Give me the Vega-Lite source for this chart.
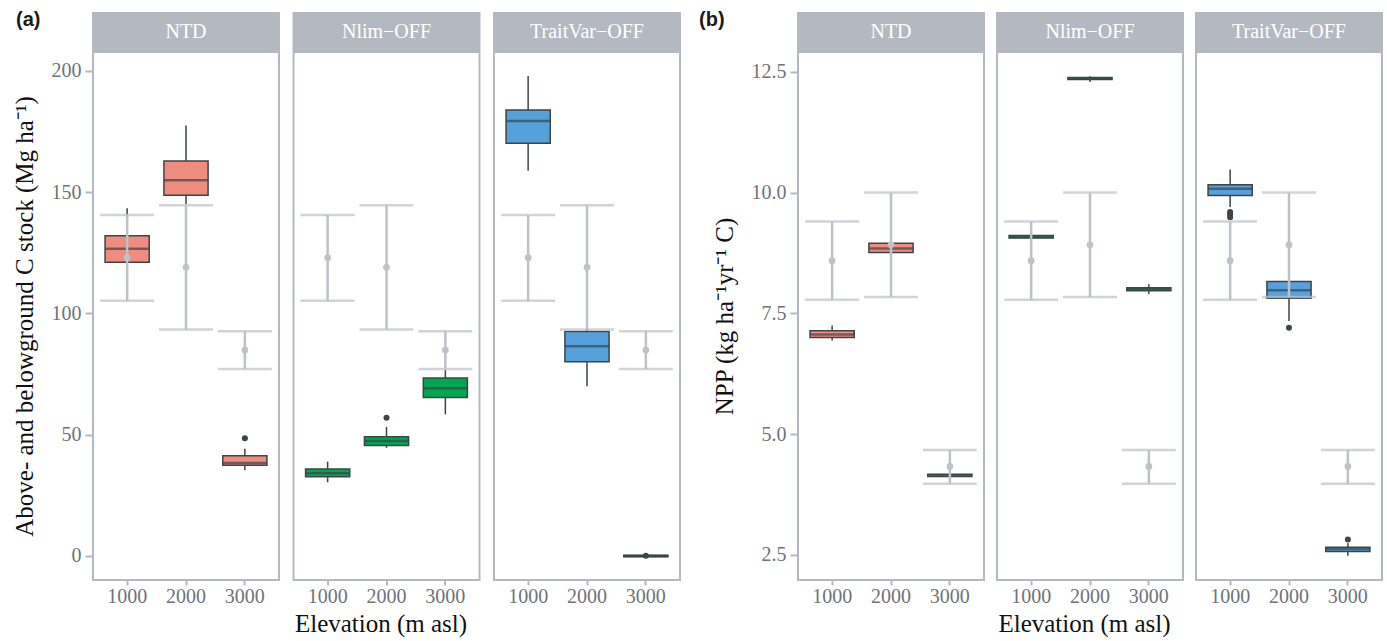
{
"$schema": "https://vega.github.io/schema/vega-lite/v6.json",
"background": "white",
"padding": {"left": 11, "top": 10, "right": 0, "bottom": 0},
"config": {
  "view": {"stroke": "#B4B9C1", "strokeWidth": 2},
  "axis": {"domain": false, "grid": false, "tickColor": "#B4B9C1", "tickWidth": 2, "labelFont": "Liberation Serif", "labelFontSize": 20, "labelColor": "#6E7379", "titleFont": "Liberation Serif", "titleFontSize": 25, "titleFontWeight": "normal", "titleColor": "#111111"},
  "axisX": {"labelAngle": 0, "tickSize": 5, "labelPadding": 1, "titlePadding": 5},
  "axisY": {"tickSize": 8, "labelPadding": 4, "titlePadding": 14},
  "title": {"font": "Liberation Sans", "fontSize": 20, "fontWeight": "bold", "color": "#1A1A1A", "anchor": "start", "frame": "bounds"}
},
"datasets": {
  "models": [{"key": "NTD", "model": "NTD"}, {"key": "Nlim", "model": "Nlim−OFF"}, {"key": "TV", "model": "TraitVar−OFF"}],
  "box": [
    {"var": "C", "key": "NTD", "elev": 1000, "lower": 113.0, "q1": 121.1, "median": 126.7, "q3": 132.0, "upper": 143.4},
    {"var": "C", "key": "NTD", "elev": 2000, "lower": 145.1, "q1": 148.7, "median": 154.9, "q3": 162.9, "upper": 177.5},
    {"var": "C", "key": "NTD", "elev": 3000, "lower": 35.3, "q1": 37.4, "median": 38.3, "q3": 41.3, "upper": 44.2},
    {"var": "C", "key": "Nlim", "elev": 1000, "lower": 30.4, "q1": 32.7, "median": 34.1, "q3": 35.9, "upper": 38.9},
    {"var": "C", "key": "Nlim", "elev": 2000, "lower": 44.6, "q1": 45.6, "median": 47.4, "q3": 49.2, "upper": 53.2},
    {"var": "C", "key": "Nlim", "elev": 3000, "lower": 58.4, "q1": 65.3, "median": 69.2, "q3": 73.4, "upper": 76.7},
    {"var": "C", "key": "TV", "elev": 1000, "lower": 158.8, "q1": 170.2, "median": 179.3, "q3": 183.9, "upper": 197.9},
    {"var": "C", "key": "TV", "elev": 2000, "lower": 70.0, "q1": 80.1, "median": 86.5, "q3": 92.6, "upper": 94.5},
    {"var": "C", "key": "TV", "elev": 3000, "lower": -0.3, "q1": -0.3, "median": 0.0, "q3": 0.3, "upper": 0.3},
    {"var": "NPP", "key": "NTD", "elev": 1000, "lower": 6.94, "q1": 7.0, "median": 7.06, "q3": 7.14, "upper": 7.25},
    {"var": "NPP", "key": "NTD", "elev": 2000, "lower": 8.74, "q1": 8.76, "median": 8.84, "q3": 8.95, "upper": 8.97},
    {"var": "NPP", "key": "NTD", "elev": 3000, "lower": 4.11, "q1": 4.12, "median": 4.14, "q3": 4.17, "upper": 4.18},
    {"var": "NPP", "key": "Nlim", "elev": 1000, "lower": 9.04, "q1": 9.06, "median": 9.08, "q3": 9.11, "upper": 9.12},
    {"var": "NPP", "key": "Nlim", "elev": 2000, "lower": 12.29, "q1": 12.34, "median": 12.36, "q3": 12.38, "upper": 12.41},
    {"var": "NPP", "key": "Nlim", "elev": 3000, "lower": 7.9, "q1": 7.97, "median": 8.0, "q3": 8.03, "upper": 8.1},
    {"var": "NPP", "key": "TV", "elev": 1000, "lower": 9.7, "q1": 9.94, "median": 10.08, "q3": 10.16, "upper": 10.48},
    {"var": "NPP", "key": "TV", "elev": 2000, "lower": 7.34, "q1": 7.81, "median": 7.98, "q3": 8.16, "upper": 8.25},
    {"var": "NPP", "key": "TV", "elev": 3000, "lower": 2.48, "q1": 2.57, "median": 2.62, "q3": 2.66, "upper": 2.74}
  ],
  "out": [
    {"var": "C", "key": "NTD", "elev": 3000, "value": 48.5},
    {"var": "C", "key": "Nlim", "elev": 2000, "value": 57.0},
    {"var": "C", "key": "TV", "elev": 3000, "value": 0.1},
    {"var": "NPP", "key": "TV", "elev": 1000, "value": 9.6},
    {"var": "NPP", "key": "TV", "elev": 1000, "value": 9.55},
    {"var": "NPP", "key": "TV", "elev": 1000, "value": 9.49},
    {"var": "NPP", "key": "TV", "elev": 2000, "value": 7.2},
    {"var": "NPP", "key": "TV", "elev": 3000, "value": 2.82}
  ],
  "obs": [
    {"var": "C", "elev": 1000, "lo": 105.2, "mean": 123.0, "hi": 140.6},
    {"var": "C", "elev": 2000, "lo": 93.4, "mean": 119.0, "hi": 144.6},
    {"var": "C", "elev": 3000, "lo": 77.1, "mean": 84.9, "hi": 92.7},
    {"var": "NPP", "elev": 1000, "lo": 7.78, "mean": 8.59, "hi": 9.4},
    {"var": "NPP", "elev": 2000, "lo": 7.84, "mean": 8.92, "hi": 10.0},
    {"var": "NPP", "elev": 3000, "lo": 3.97, "mean": 4.33, "hi": 4.67}
  ]
},
"spacing": 18,
"hconcat": [
 {
  "title": {"text": "(a)", "offset": -18, "dx": 5},
  "spacing": 12.5,
  "hconcat": [
   {"spacing": 0, "vconcat": [
     {"width": 186, "height": 37, "view": {"fill": "#B4B9C1", "stroke": "#B4B9C1", "strokeWidth": 2},
      "data": {"name": "models"}, "transform": [{"filter": "datum.key === 'NTD'"}],
      "mark": {"type": "text", "color": "white", "font": "Liberation Serif", "fontSize": 20},
      "encoding": {"text": {"field": "model"}}},
     {"width": 186, "height": 528,
      "encoding": {"x": {"field": "elev", "type": "ordinal", "scale": {"domain": [1000, 2000, 3000], "paddingInner": 0, "paddingOuter": 0.08}, "axis": {"title": null}}},
      "layer": [
       {"data": {"name": "box"}, "transform": [{"filter": "datum.var === 'C' && datum.key === 'NTD'"}],
        "mark": {"type": "rule", "color": "#3C4547", "strokeWidth": 1.5},
        "encoding": {"y": {"field": "lower", "type": "quantitative", "scale": {"domain": [-9.9, 207.8], "nice": false, "zero": false}, "axis": {"title": "Above- and belowground C stock (Mg ha⁻¹)", "values": [0, 50, 100, 150, 200]}}, "y2": {"field": "upper"}}},
       {"data": {"name": "box"}, "transform": [{"filter": "datum.var === 'C' && datum.key === 'NTD'"}],
        "mark": {"type": "bar", "width": {"band": 0.75}, "color": "#EE8C80", "stroke": "#3C4547", "strokeWidth": 1.5},
        "encoding": {"y": {"field": "q1", "type": "quantitative"}, "y2": {"field": "q3"}}},
       {"data": {"name": "box"}, "transform": [{"filter": "datum.var === 'C' && datum.key === 'NTD'"}],
        "mark": {"type": "tick", "color": "#3C4547", "size": 44, "thickness": 2.5},
        "encoding": {"y": {"field": "median", "type": "quantitative"}}},
       {"data": {"name": "out"}, "transform": [{"filter": "datum.var === 'C' && datum.key === 'NTD'"}],
        "mark": {"type": "circle", "color": "#3C4547", "size": 36, "opacity": 1},
        "encoding": {"y": {"field": "value", "type": "quantitative"}}},
       {"data": {"name": "obs"}, "transform": [{"filter": "datum.var === 'C'"}],
        "mark": {"type": "rule", "color": "#BDC1C8", "strokeWidth": 2.5},
        "encoding": {"y": {"field": "lo", "type": "quantitative"}, "y2": {"field": "hi"}}},
       {"data": {"name": "obs"}, "transform": [{"filter": "datum.var === 'C'"}],
        "mark": {"type": "tick", "color": "#BDC1C8", "size": 54, "thickness": 2.5},
        "encoding": {"y": {"field": "lo", "type": "quantitative"}}},
       {"data": {"name": "obs"}, "transform": [{"filter": "datum.var === 'C'"}],
        "mark": {"type": "tick", "color": "#BDC1C8", "size": 54, "thickness": 2.5},
        "encoding": {"y": {"field": "hi", "type": "quantitative"}}},
       {"data": {"name": "obs"}, "transform": [{"filter": "datum.var === 'C'"}],
        "mark": {"type": "circle", "color": "#BDC1C8", "size": 45, "opacity": 1},
        "encoding": {"y": {"field": "mean", "type": "quantitative"}}}
      ]}
   ]},
   {"spacing": 0, "vconcat": [
     {"width": 186, "height": 37, "view": {"fill": "#B4B9C1", "stroke": "#B4B9C1", "strokeWidth": 2},
      "data": {"name": "models"}, "transform": [{"filter": "datum.key === 'Nlim'"}],
      "mark": {"type": "text", "color": "white", "font": "Liberation Serif", "fontSize": 20},
      "encoding": {"text": {"field": "model"}}},
     {"width": 186, "height": 528,
      "encoding": {"x": {"field": "elev", "type": "ordinal", "scale": {"domain": [1000, 2000, 3000], "paddingInner": 0, "paddingOuter": 0.08}, "axis": {"title": "Elevation (m asl)", "titleX": 87}}},
      "layer": [
       {"data": {"name": "box"}, "transform": [{"filter": "datum.var === 'C' && datum.key === 'Nlim'"}],
        "mark": {"type": "rule", "color": "#3C4547", "strokeWidth": 1.5},
        "encoding": {"y": {"field": "lower", "type": "quantitative", "scale": {"domain": [-9.9, 207.8], "nice": false, "zero": false}, "axis": null}, "y2": {"field": "upper"}}},
       {"data": {"name": "box"}, "transform": [{"filter": "datum.var === 'C' && datum.key === 'Nlim'"}],
        "mark": {"type": "bar", "width": {"band": 0.75}, "color": "#00A650", "stroke": "#3C4547", "strokeWidth": 1.5},
        "encoding": {"y": {"field": "q1", "type": "quantitative", "axis": null}, "y2": {"field": "q3"}}},
       {"data": {"name": "box"}, "transform": [{"filter": "datum.var === 'C' && datum.key === 'Nlim'"}],
        "mark": {"type": "tick", "color": "#3C4547", "size": 44, "thickness": 2.5},
        "encoding": {"y": {"field": "median", "type": "quantitative", "axis": null}}},
       {"data": {"name": "out"}, "transform": [{"filter": "datum.var === 'C' && datum.key === 'Nlim'"}],
        "mark": {"type": "circle", "color": "#3C4547", "size": 36, "opacity": 1},
        "encoding": {"y": {"field": "value", "type": "quantitative", "axis": null}}},
       {"data": {"name": "obs"}, "transform": [{"filter": "datum.var === 'C'"}],
        "mark": {"type": "rule", "color": "#BDC1C8", "strokeWidth": 2.5},
        "encoding": {"y": {"field": "lo", "type": "quantitative", "axis": null}, "y2": {"field": "hi"}}},
       {"data": {"name": "obs"}, "transform": [{"filter": "datum.var === 'C'"}],
        "mark": {"type": "tick", "color": "#BDC1C8", "size": 54, "thickness": 2.5},
        "encoding": {"y": {"field": "lo", "type": "quantitative", "axis": null}}},
       {"data": {"name": "obs"}, "transform": [{"filter": "datum.var === 'C'"}],
        "mark": {"type": "tick", "color": "#BDC1C8", "size": 54, "thickness": 2.5},
        "encoding": {"y": {"field": "hi", "type": "quantitative", "axis": null}}},
       {"data": {"name": "obs"}, "transform": [{"filter": "datum.var === 'C'"}],
        "mark": {"type": "circle", "color": "#BDC1C8", "size": 45, "opacity": 1},
        "encoding": {"y": {"field": "mean", "type": "quantitative", "axis": null}}}
      ]}
   ]},
   {"spacing": 0, "vconcat": [
     {"width": 186, "height": 37, "view": {"fill": "#B4B9C1", "stroke": "#B4B9C1", "strokeWidth": 2},
      "data": {"name": "models"}, "transform": [{"filter": "datum.key === 'TV'"}],
      "mark": {"type": "text", "color": "white", "font": "Liberation Serif", "fontSize": 20},
      "encoding": {"text": {"field": "model"}}},
     {"width": 186, "height": 528,
      "encoding": {"x": {"field": "elev", "type": "ordinal", "scale": {"domain": [1000, 2000, 3000], "paddingInner": 0, "paddingOuter": 0.08}, "axis": {"title": null}}},
      "layer": [
       {"data": {"name": "box"}, "transform": [{"filter": "datum.var === 'C' && datum.key === 'TV'"}],
        "mark": {"type": "rule", "color": "#3C4547", "strokeWidth": 1.5},
        "encoding": {"y": {"field": "lower", "type": "quantitative", "scale": {"domain": [-9.9, 207.8], "nice": false, "zero": false}, "axis": null}, "y2": {"field": "upper"}}},
       {"data": {"name": "box"}, "transform": [{"filter": "datum.var === 'C' && datum.key === 'TV'"}],
        "mark": {"type": "bar", "width": {"band": 0.75}, "color": "#56A1DC", "stroke": "#3C4547", "strokeWidth": 1.5},
        "encoding": {"y": {"field": "q1", "type": "quantitative", "axis": null}, "y2": {"field": "q3"}}},
       {"data": {"name": "box"}, "transform": [{"filter": "datum.var === 'C' && datum.key === 'TV'"}],
        "mark": {"type": "tick", "color": "#3C4547", "size": 44, "thickness": 2.5},
        "encoding": {"y": {"field": "median", "type": "quantitative", "axis": null}}},
       {"data": {"name": "out"}, "transform": [{"filter": "datum.var === 'C' && datum.key === 'TV'"}],
        "mark": {"type": "circle", "color": "#3C4547", "size": 36, "opacity": 1},
        "encoding": {"y": {"field": "value", "type": "quantitative", "axis": null}}},
       {"data": {"name": "obs"}, "transform": [{"filter": "datum.var === 'C'"}],
        "mark": {"type": "rule", "color": "#BDC1C8", "strokeWidth": 2.5},
        "encoding": {"y": {"field": "lo", "type": "quantitative", "axis": null}, "y2": {"field": "hi"}}},
       {"data": {"name": "obs"}, "transform": [{"filter": "datum.var === 'C'"}],
        "mark": {"type": "tick", "color": "#BDC1C8", "size": 54, "thickness": 2.5},
        "encoding": {"y": {"field": "lo", "type": "quantitative", "axis": null}}},
       {"data": {"name": "obs"}, "transform": [{"filter": "datum.var === 'C'"}],
        "mark": {"type": "tick", "color": "#BDC1C8", "size": 54, "thickness": 2.5},
        "encoding": {"y": {"field": "hi", "type": "quantitative", "axis": null}}},
       {"data": {"name": "obs"}, "transform": [{"filter": "datum.var === 'C'"}],
        "mark": {"type": "circle", "color": "#BDC1C8", "size": 45, "opacity": 1},
        "encoding": {"y": {"field": "mean", "type": "quantitative", "axis": null}}}
      ]}
   ]}
  ]
 },
 {
  "title": {"text": "(b)", "offset": -18, "dx": -12},
  "spacing": 11,
  "hconcat": [
   {"spacing": 0, "vconcat": [
     {"width": 186, "height": 37, "view": {"fill": "#B4B9C1", "stroke": "#B4B9C1", "strokeWidth": 2},
      "data": {"name": "models"}, "transform": [{"filter": "datum.key === 'NTD'"}],
      "mark": {"type": "text", "color": "white", "font": "Liberation Serif", "fontSize": 20},
      "encoding": {"text": {"field": "model"}}},
     {"width": 186, "height": 528,
      "encoding": {"x": {"field": "elev", "type": "ordinal", "scale": {"domain": [1000, 2000, 3000], "paddingInner": 0, "paddingOuter": 0.08}, "axis": {"title": null}}},
      "layer": [
       {"data": {"name": "box"}, "transform": [{"filter": "datum.var === 'NPP' && datum.key === 'NTD'"}],
        "mark": {"type": "rule", "color": "#3C4547", "strokeWidth": 1.5},
        "encoding": {"y": {"field": "lower", "type": "quantitative", "scale": {"domain": [1.98, 12.91], "nice": false, "zero": false}, "axis": {"title": "NPP (kg ha⁻¹yr⁻¹ C)", "values": [2.5, 5, 7.5, 10, 12.5], "format": ".1f"}}, "y2": {"field": "upper"}}},
       {"data": {"name": "box"}, "transform": [{"filter": "datum.var === 'NPP' && datum.key === 'NTD'"}],
        "mark": {"type": "bar", "width": {"band": 0.75}, "color": "#EE8C80", "stroke": "#3C4547", "strokeWidth": 1.5},
        "encoding": {"y": {"field": "q1", "type": "quantitative"}, "y2": {"field": "q3"}}},
       {"data": {"name": "box"}, "transform": [{"filter": "datum.var === 'NPP' && datum.key === 'NTD'"}],
        "mark": {"type": "tick", "color": "#3C4547", "size": 44, "thickness": 2.5},
        "encoding": {"y": {"field": "median", "type": "quantitative"}}},
       {"data": {"name": "out"}, "transform": [{"filter": "datum.var === 'NPP' && datum.key === 'NTD'"}],
        "mark": {"type": "circle", "color": "#3C4547", "size": 36, "opacity": 1},
        "encoding": {"y": {"field": "value", "type": "quantitative"}}},
       {"data": {"name": "obs"}, "transform": [{"filter": "datum.var === 'NPP'"}],
        "mark": {"type": "rule", "color": "#BDC1C8", "strokeWidth": 2.5},
        "encoding": {"y": {"field": "lo", "type": "quantitative"}, "y2": {"field": "hi"}}},
       {"data": {"name": "obs"}, "transform": [{"filter": "datum.var === 'NPP'"}],
        "mark": {"type": "tick", "color": "#BDC1C8", "size": 54, "thickness": 2.5},
        "encoding": {"y": {"field": "lo", "type": "quantitative"}}},
       {"data": {"name": "obs"}, "transform": [{"filter": "datum.var === 'NPP'"}],
        "mark": {"type": "tick", "color": "#BDC1C8", "size": 54, "thickness": 2.5},
        "encoding": {"y": {"field": "hi", "type": "quantitative"}}},
       {"data": {"name": "obs"}, "transform": [{"filter": "datum.var === 'NPP'"}],
        "mark": {"type": "circle", "color": "#BDC1C8", "size": 45, "opacity": 1},
        "encoding": {"y": {"field": "mean", "type": "quantitative"}}}
      ]}
   ]},
   {"spacing": 0, "vconcat": [
     {"width": 186, "height": 37, "view": {"fill": "#B4B9C1", "stroke": "#B4B9C1", "strokeWidth": 2},
      "data": {"name": "models"}, "transform": [{"filter": "datum.key === 'Nlim'"}],
      "mark": {"type": "text", "color": "white", "font": "Liberation Serif", "fontSize": 20},
      "encoding": {"text": {"field": "model"}}},
     {"width": 186, "height": 528,
      "encoding": {"x": {"field": "elev", "type": "ordinal", "scale": {"domain": [1000, 2000, 3000], "paddingInner": 0, "paddingOuter": 0.08}, "axis": {"title": "Elevation (m asl)", "titleX": 87}}},
      "layer": [
       {"data": {"name": "box"}, "transform": [{"filter": "datum.var === 'NPP' && datum.key === 'Nlim'"}],
        "mark": {"type": "rule", "color": "#3C4547", "strokeWidth": 1.5},
        "encoding": {"y": {"field": "lower", "type": "quantitative", "scale": {"domain": [1.98, 12.91], "nice": false, "zero": false}, "axis": null}, "y2": {"field": "upper"}}},
       {"data": {"name": "box"}, "transform": [{"filter": "datum.var === 'NPP' && datum.key === 'Nlim'"}],
        "mark": {"type": "bar", "width": {"band": 0.75}, "color": "#00A650", "stroke": "#3C4547", "strokeWidth": 1.5},
        "encoding": {"y": {"field": "q1", "type": "quantitative", "axis": null}, "y2": {"field": "q3"}}},
       {"data": {"name": "box"}, "transform": [{"filter": "datum.var === 'NPP' && datum.key === 'Nlim'"}],
        "mark": {"type": "tick", "color": "#3C4547", "size": 44, "thickness": 2.5},
        "encoding": {"y": {"field": "median", "type": "quantitative", "axis": null}}},
       {"data": {"name": "out"}, "transform": [{"filter": "datum.var === 'NPP' && datum.key === 'Nlim'"}],
        "mark": {"type": "circle", "color": "#3C4547", "size": 36, "opacity": 1},
        "encoding": {"y": {"field": "value", "type": "quantitative", "axis": null}}},
       {"data": {"name": "obs"}, "transform": [{"filter": "datum.var === 'NPP'"}],
        "mark": {"type": "rule", "color": "#BDC1C8", "strokeWidth": 2.5},
        "encoding": {"y": {"field": "lo", "type": "quantitative", "axis": null}, "y2": {"field": "hi"}}},
       {"data": {"name": "obs"}, "transform": [{"filter": "datum.var === 'NPP'"}],
        "mark": {"type": "tick", "color": "#BDC1C8", "size": 54, "thickness": 2.5},
        "encoding": {"y": {"field": "lo", "type": "quantitative", "axis": null}}},
       {"data": {"name": "obs"}, "transform": [{"filter": "datum.var === 'NPP'"}],
        "mark": {"type": "tick", "color": "#BDC1C8", "size": 54, "thickness": 2.5},
        "encoding": {"y": {"field": "hi", "type": "quantitative", "axis": null}}},
       {"data": {"name": "obs"}, "transform": [{"filter": "datum.var === 'NPP'"}],
        "mark": {"type": "circle", "color": "#BDC1C8", "size": 45, "opacity": 1},
        "encoding": {"y": {"field": "mean", "type": "quantitative", "axis": null}}}
      ]}
   ]},
   {"spacing": 0, "vconcat": [
     {"width": 186, "height": 37, "view": {"fill": "#B4B9C1", "stroke": "#B4B9C1", "strokeWidth": 2},
      "data": {"name": "models"}, "transform": [{"filter": "datum.key === 'TV'"}],
      "mark": {"type": "text", "color": "white", "font": "Liberation Serif", "fontSize": 20},
      "encoding": {"text": {"field": "model"}}},
     {"width": 186, "height": 528,
      "encoding": {"x": {"field": "elev", "type": "ordinal", "scale": {"domain": [1000, 2000, 3000], "paddingInner": 0, "paddingOuter": 0.08}, "axis": {"title": null}}},
      "layer": [
       {"data": {"name": "box"}, "transform": [{"filter": "datum.var === 'NPP' && datum.key === 'TV'"}],
        "mark": {"type": "rule", "color": "#3C4547", "strokeWidth": 1.5},
        "encoding": {"y": {"field": "lower", "type": "quantitative", "scale": {"domain": [1.98, 12.91], "nice": false, "zero": false}, "axis": null}, "y2": {"field": "upper"}}},
       {"data": {"name": "box"}, "transform": [{"filter": "datum.var === 'NPP' && datum.key === 'TV'"}],
        "mark": {"type": "bar", "width": {"band": 0.75}, "color": "#56A1DC", "stroke": "#3C4547", "strokeWidth": 1.5},
        "encoding": {"y": {"field": "q1", "type": "quantitative", "axis": null}, "y2": {"field": "q3"}}},
       {"data": {"name": "box"}, "transform": [{"filter": "datum.var === 'NPP' && datum.key === 'TV'"}],
        "mark": {"type": "tick", "color": "#3C4547", "size": 44, "thickness": 2.5},
        "encoding": {"y": {"field": "median", "type": "quantitative", "axis": null}}},
       {"data": {"name": "out"}, "transform": [{"filter": "datum.var === 'NPP' && datum.key === 'TV'"}],
        "mark": {"type": "circle", "color": "#3C4547", "size": 36, "opacity": 1},
        "encoding": {"y": {"field": "value", "type": "quantitative", "axis": null}}},
       {"data": {"name": "obs"}, "transform": [{"filter": "datum.var === 'NPP'"}],
        "mark": {"type": "rule", "color": "#BDC1C8", "strokeWidth": 2.5},
        "encoding": {"y": {"field": "lo", "type": "quantitative", "axis": null}, "y2": {"field": "hi"}}},
       {"data": {"name": "obs"}, "transform": [{"filter": "datum.var === 'NPP'"}],
        "mark": {"type": "tick", "color": "#BDC1C8", "size": 54, "thickness": 2.5},
        "encoding": {"y": {"field": "lo", "type": "quantitative", "axis": null}}},
       {"data": {"name": "obs"}, "transform": [{"filter": "datum.var === 'NPP'"}],
        "mark": {"type": "tick", "color": "#BDC1C8", "size": 54, "thickness": 2.5},
        "encoding": {"y": {"field": "hi", "type": "quantitative", "axis": null}}},
       {"data": {"name": "obs"}, "transform": [{"filter": "datum.var === 'NPP'"}],
        "mark": {"type": "circle", "color": "#BDC1C8", "size": 45, "opacity": 1},
        "encoding": {"y": {"field": "mean", "type": "quantitative", "axis": null}}}
      ]}
   ]}
  ]
 }
]
}
